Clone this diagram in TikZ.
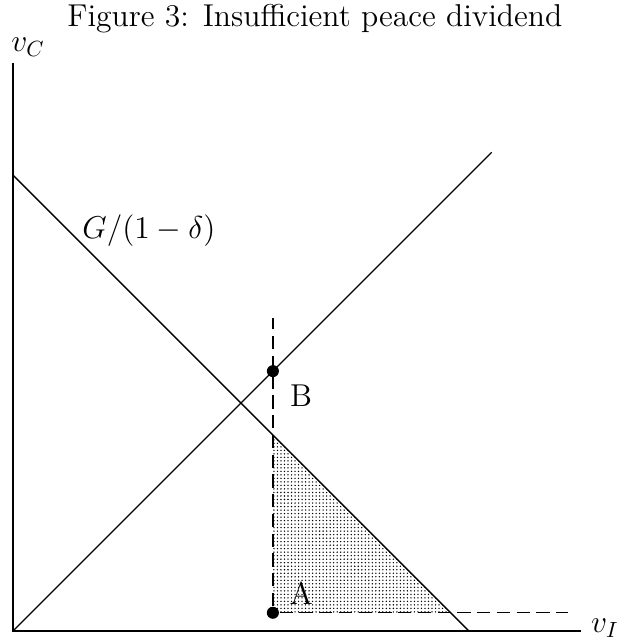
\documentclass[tikz,border=0pt]{standalone}
\usepackage{amsmath, amssymb}
\usetikzlibrary{patterns.meta}

\tikzset{
  guide/.style={dashed, dash pattern=on 6pt off 3pt},
  pt/.style={circle, fill=black, inner sep=0pt, minimum size=5.5pt},
  finedots/.style={pattern={Dots[distance=1.6pt, radius=0.35pt]}, pattern color=black},
}

\begin{document}
\begin{tikzpicture}[x=0.73cm, y=0.73cm, line width=0.6pt,
    every node/.style={font=\fontsize{14.4pt}{17pt}\selectfont}]
  \useasboundingbox (-0.285,-0.197) rectangle (13.33,13.84);

  % Title
  \node (title) at (6.62,13.44) {Figure 3: Insufficient peace dividend};

  % Axes
  \coordinate (o) at (0,0);
  \coordinate (xend) at (12.45,0);
  \coordinate (yend) at (0,12.45);
  \node[inner sep=1pt] (vi) at (12.98,0.06) {\(v_I\)};
  \node (vc) at (0.33,12.8) {\(v_C\)};
  \draw (yend) -- (o) -- (xend);

  % Shaded region
  \coordinate (s1) at (5.7,0.4);
  \coordinate (s2) at (5.7,4.3);
  \coordinate (s3) at (9.6,0.4);
  \fill[finedots] (s1) -- (s2) -- (s3) -- cycle;

  % Lines
  \coordinate (g1) at (0,10);
  \coordinate (g2) at (10,0);
  \coordinate (d1) at (10.5,10.5);
  \draw (g1) -- (g2);
  \draw (o) -- (d1);
  \node (glabel) at (2.98,8.79) {\(G/(1-\delta)\)};

  % Dashed guides
  \coordinate (vtop) at (5.7,6.86);
  \coordinate (hend) at (12.17,0.4);
  \node[pt] (a) at (5.7,0.4) {};
  \node[pt] (b) at (5.7,5.7) {};
  \draw[guide] (a) -- (vtop);
  \draw[guide] (a) -- (hend);
  \node (alabel) at (6.32,0.83) {A};
  \node (blabel) at (6.32,5.15) {B};
\end{tikzpicture}
\end{document}
